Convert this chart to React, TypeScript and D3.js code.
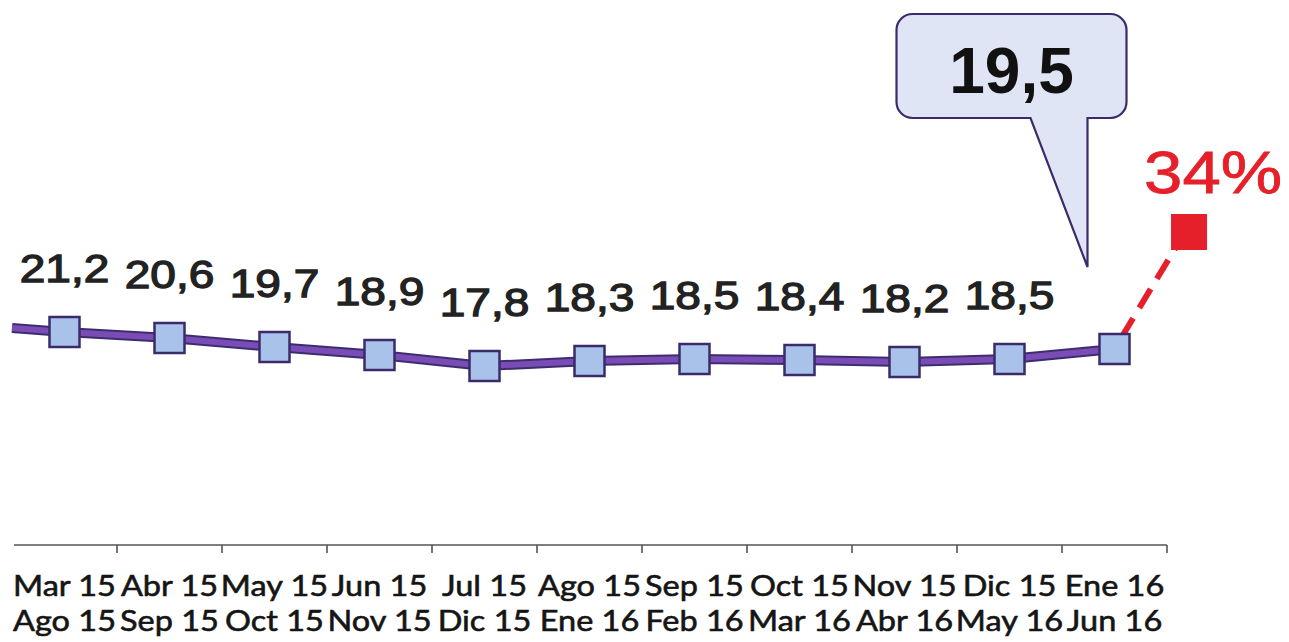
import React from 'react';
import * as d3 from 'd3';

const line1Labels = ['Mar 15', 'Abr 15', 'May 15', 'Jun 15', 'Jul 15', 'Ago 15', 'Sep 15', 'Oct 15', 'Nov 15', 'Dic 15', 'Ene 16'];
const line2Labels = ['Ago 15', 'Sep 15', 'Oct 15', 'Nov 15', 'Dic 15', 'Ene 16', 'Feb 16', 'Mar 16', 'Abr 16', 'May 16', 'Jun 16'];
const values = [21.2, 20.6, 19.7, 18.9, 17.8, 18.3, 18.5, 18.4, 18.2, 18.5, 19.5];
const leadIn = { index: -0.5, value: 21.6 };
const projection = { index: 10.71, value: 31.2, label: '34%' };

const W = 1289;
const H = 642;

export default function App() {
  const x = d3.scaleBand<number>()
    .domain(values.map((_, i) => i))
    .range([12, 1167]);
  const step = x.step();
  const xi = (i: number) => (x(0) as number) + step * (i + 0.5);
  const y = d3.scaleLinear().domain([0, 34]).range([544, 204]);

  const pts = values.map((v, i) => ({ cx: xi(i), cy: y(v), v }));
  const lineGen = d3.line<[number, number]>();
  const mainLine = lineGen([[xi(leadIn.index), y(leadIn.value)], ...pts.map((p) => [p.cx, p.cy] as [number, number])]);

  const last = pts[pts.length - 1];
  const px = xi(projection.index);
  const py = y(projection.value);

  // callout anchored to last point
  const cl = last.cx - 218, cr = last.cx + 12, ct = 14, cb = 118, r = 16;
  const tipX = last.cx - 27, tipY = last.cy - 82;
  const p = d3.path();
  p.moveTo(cl + r, ct);
  p.lineTo(cr - r, ct);
  p.arcTo(cr, ct, cr, ct + r, r);
  p.lineTo(cr, cb - r);
  p.arcTo(cr, cb, cr - r, cb, r);
  p.lineTo(tipX, cb);
  p.lineTo(tipX, tipY);
  p.lineTo(tipX - 57, cb);
  p.lineTo(cl + r, cb);
  p.arcTo(cl, cb, cl, cb - r, r);
  p.lineTo(cl, ct + r);
  p.arcTo(cl, ct, cl + r, ct, r);
  p.closePath();

  const axisY = y(0) + 1;
  const ticks = values.map((_, i) => (x(i) as number) + step);

  return (
    <svg width={W} height={H} style={{ position: 'fixed', left: 0, top: 0, background: '#fff' }}>
      {/* axis */}
      <line x1={14} x2={x.range()[1]} y1={axisY} y2={axisY} stroke="#555" strokeWidth={1.6} />
      {ticks.map((t, i) => (
        <line key={i} x1={t} x2={t} y1={axisY} y2={axisY + 8} stroke="#555" strokeWidth={1.6} />
      ))}
      {values.map((_, i) => (
        <g key={i} fontFamily="Lato, 'Open Sans', sans-serif" fontSize={29} fill="#151515" stroke="#151515" strokeWidth={0.6} textAnchor="middle">
          <text transform={`translate(${xi(i)},596) scale(1.12,1)`}>{line1Labels[i]}</text>
          <text transform={`translate(${xi(i)},631) scale(1.12,1)`}>{line2Labels[i]}</text>
        </g>
      ))}

      {/* projection dashed line */}
      <line x1={last.cx} y1={last.cy} x2={px - 10} y2={py + 10} stroke="#e6202a" strokeWidth={6} strokeDasharray="22 12" strokeDashoffset={-14} />
      <rect x={px - 18} y={py - 18} width={36} height={36} fill="#e6202a" />
      <text transform={`translate(${px + 24},${py - 39}) scale(1.15,1)`} textAnchor="middle"
        fontFamily="'Liberation Sans', Arial, sans-serif" fontSize={60} fill="#e6202a" stroke="#e6202a" strokeWidth={0.8}>{projection.label}</text>

      {/* main line */}
      <path d={mainLine || ''} fill="none" stroke="#3e2d6e" strokeWidth={10} strokeLinejoin="round" />
      <path d={mainLine || ''} fill="none" stroke="#7a4db6" strokeWidth={6} strokeLinejoin="round" />
      {pts.map((pt, i) => (
        <rect key={i} x={pt.cx - 15} y={pt.cy - 15} width={30} height={30} fill="#a9c2ea" stroke="#3a2b6b" strokeWidth={2.5} />
      ))}
      {pts.slice(0, -1).map((pt, i) => (
        <text key={i} transform={`translate(${pt.cx},${pt.cy - 50}) scale(1.18,1)`} textAnchor="middle"
          fontFamily="'Liberation Sans', Arial, sans-serif" fontSize={39} fill="#222" stroke="#222" strokeWidth={1.3}>
          {String(pt.v).replace('.', ',')}
        </text>
      ))}

      {/* callout */}
      <path d={p.toString()} fill="#dfe5f5" stroke="#3a2b6b" strokeWidth={2.2} />
      <text x={(cl + cr) / 2} y={93} textAnchor="middle" fontFamily="'Liberation Sans', Arial, sans-serif"
        fontWeight="bold" fontSize={64} fill="#111">{String(last.v).replace('.', ',')}</text>
    </svg>
  );
}
